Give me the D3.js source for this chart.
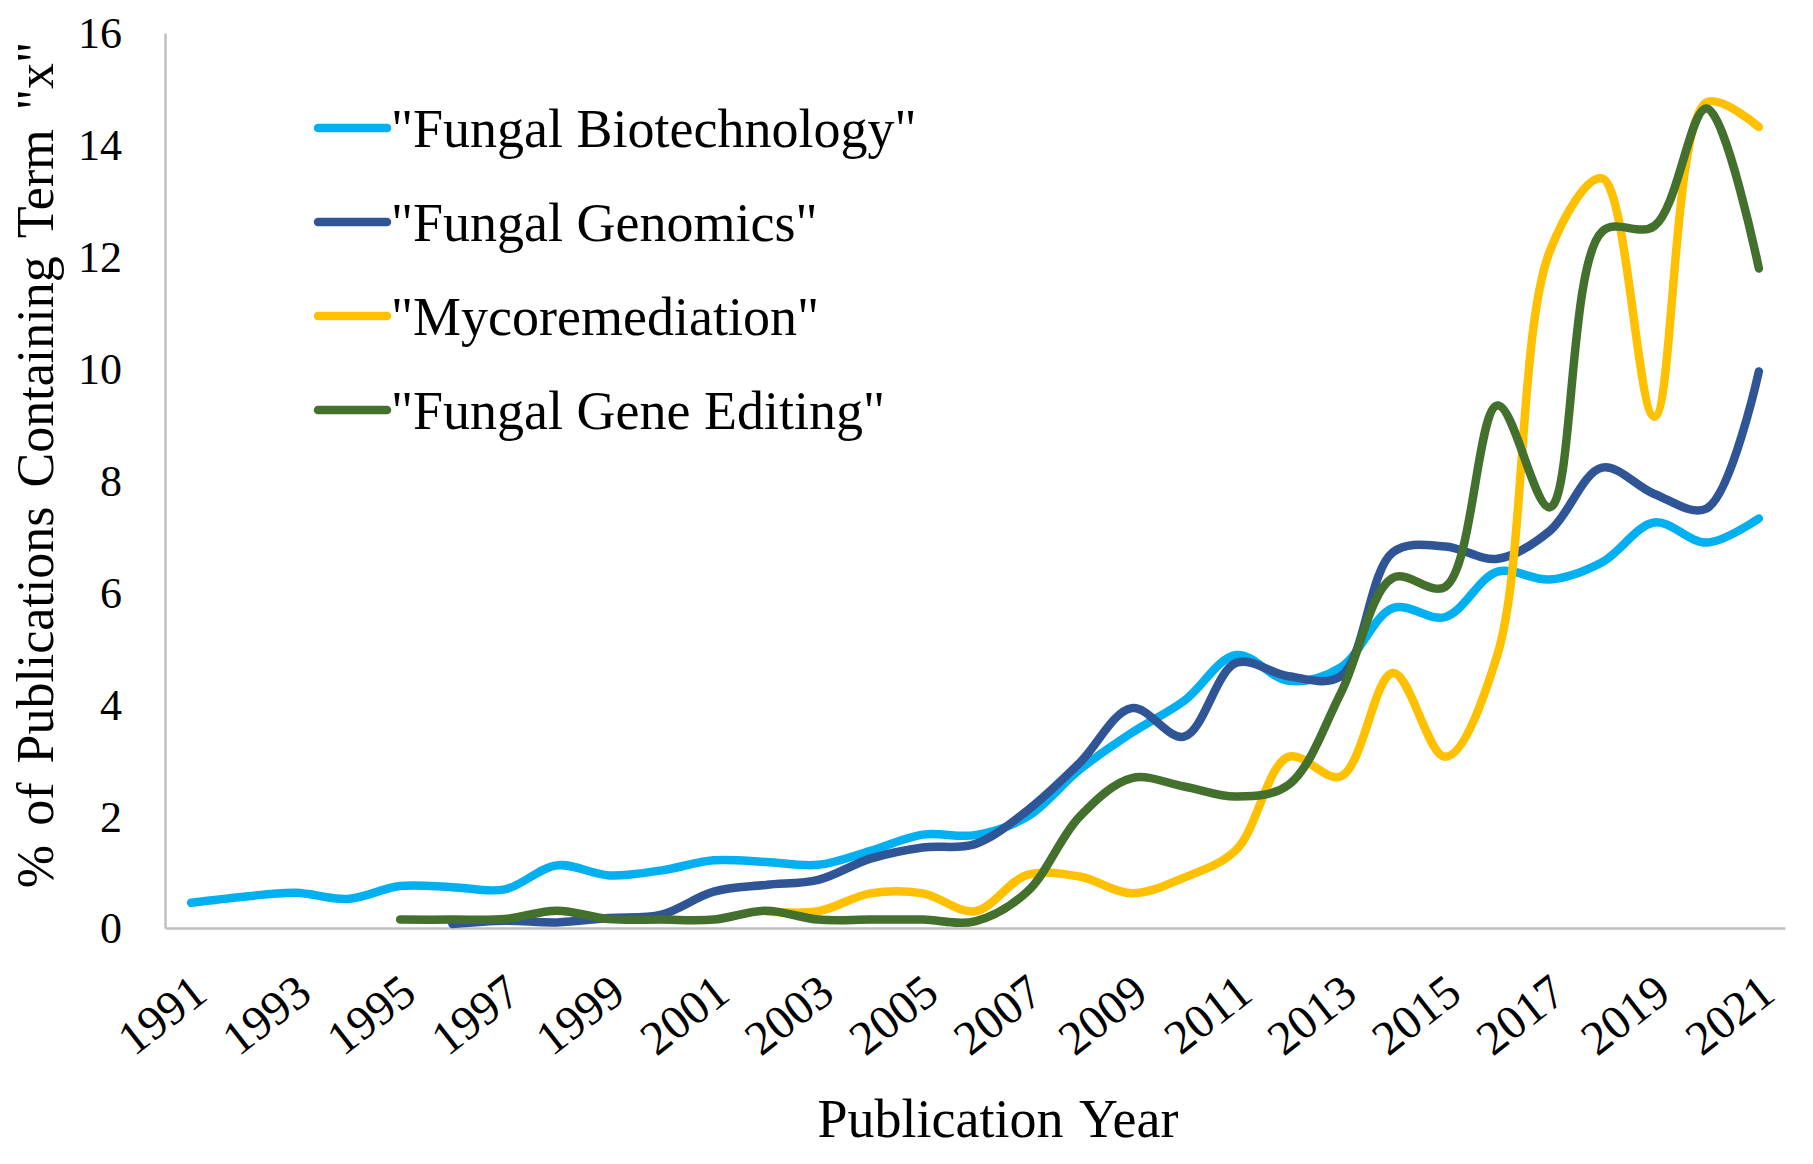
<!DOCTYPE HTML>
<html>
	<head>
		<meta charset="UTF-8">
		<title>Publications containing term</title>
		<script src="https://d3js.org/d3.v7.min.js"></script>
		<style>
			body { margin: 0; background: white; }
			text { font-family: "Liberation Serif", "Times New Roman", serif; fill: black; }
		</style>
	</head>
	<body>
		<svg id="svg" width="1813" height="1164"></svg>
	</body>
</html>
<script type="text/javascript">

var years = d3.range(1991, 2022)
var tickYears = [1991, 1993, 1995, 1997, 1999, 2001, 2003, 2005, 2007, 2009, 2011, 2013, 2015, 2017, 2019, 2021]
var yTicks = [0, 2, 4, 6, 8, 10, 12, 14, 16]

var names = ['"Fungal Biotechnology"', '"Fungal Genomics"', '"Mycoremediation"', '"Fungal Gene Editing"']
var colors = ["#00b0f0", "#2f5597", "#ffc000", "#43702c"]

// 1991 .. 2021, null = no data that year
var biotech = [0.45, 0.56, 0.63, 0.52, 0.75, 0.73, 0.69, 1.12, 0.94, 1.03, 1.21, 1.18, 1.13, 1.38, 1.67, 1.66,
	1.99, 2.83, 3.49, 4.06, 4.88, 4.42, 4.66, 5.72, 5.56, 6.37, 6.23, 6.54, 7.25, 6.89, 7.32]
var genomics = [null, null, null, null, null, 0.07, 0.13, 0.1, 0.18, 0.24, 0.65, 0.77, 0.86, 1.24, 1.44, 1.5,
	2.1, 2.95, 3.93, 3.42, 4.74, 4.5, 4.5, 6.72, 6.82, 6.6, 7.1, 8.23, 7.76, 7.5, 9.95]
var myco = [null, null, null, null, null, null, null, null, null, null, null, 0.3, 0.3, 0.62, 0.62, 0.3,
	0.95, 0.92, 0.62, 0.9, 1.4, 3.06, 2.71, 4.56, 3.06, 4.9, 12.1, 13.4, 9.14, 14.76, 14.32]
var editing = [null, null, null, null, 0.15, 0.15, 0.16, 0.31, 0.16, 0.15, 0.15, 0.31, 0.15, 0.15, 0.15, 0.12,
	0.65, 1.99, 2.68, 2.53, 2.35, 2.56, 4.2, 6.26, 6.1, 9.34, 7.52, 12.45, 12.55, 14.65, 11.79]

var series = [biotech, genomics, myco, editing]

var svg = d3.select("svg")

svg.append("rect")
	.attr("width", 1813)
	.attr("height", 1164)
	.style("fill", "white")

var x = d3.scalePoint()
	.domain(years)
	.range([165, 1785])
	.padding(0.5)

var y = d3.scaleLinear()
	.domain([0, 16])
	.range([928, 33])

var yAxis = d3.axisLeft(y)
	.tickValues(yTicks)
	.tickSize(0)
	.tickSizeOuter(0)
	.tickPadding(43)

var xAxis = d3.axisBottom(x)
	.tickValues(tickYears)
	.tickSize(0)
	.tickSizeOuter(0)

var gy = svg.append("g")
	.attr("transform", "translate(165,0)")
	.call(yAxis)
gy.select(".domain").style("stroke", "#bfbfbf").style("stroke-width", 2.5)
gy.selectAll("text")
	.style("font-family", '"Liberation Serif", "Times New Roman", serif')
	.style("font-size", "44px")
	.attr("dy", "0.34em")

var gx = svg.append("g")
	.attr("transform", "translate(0,928)")
	.call(xAxis)
gx.select(".domain").style("stroke", "#bfbfbf").style("stroke-width", 2.5)
gx.selectAll("text")
	.style("font-family", '"Liberation Serif", "Times New Roman", serif')
	.style("font-size", "48px")
	.attr("text-anchor", "end")
	.attr("y", 0)
	.attr("dy", 0)
	.attr("transform", "translate(18,70) rotate(-38)")

var line = d3.line()
	.defined(function (d) { return d != null; })
	.x(function (d, i) { return x(years[i]); })
	.y(function (d) { return y(d); })
	.curve(d3.curveCatmullRom.alpha(0.5))

svg.selectAll("path.series")
	.data(series)
	.enter().append("path")
	.attr("class", "series")
	.attr("d", line)
	.style("fill", "none")
	.style("stroke", function (d, i) { return colors[i]; })
	.style("stroke-width", 8.5)
	.style("stroke-linecap", "round")
	.style("stroke-linejoin", "round")

for (var i = 0; i < names.length; i++) {
	svg.append("line")
		.attr("x1", 318)
		.attr("x2", 387)
		.attr("y1", 128 + i * 94)
		.attr("y2", 128 + i * 94)
		.style("stroke", colors[i])
		.style("stroke-width", 8.5)
		.style("stroke-linecap", "round")

	svg.append("text")
		.attr("x", 391)
		.attr("y", 128 + i * 94)
		.attr("dy", "0.35em")
		.style("font-size", "54px")
		.text(names[i])
}

svg.append("text")
	.attr("x", 998)
	.attr("y", 1137)
	.attr("text-anchor", "middle")
	.style("font-size", "54px")
	.style("word-spacing", "4px")
	.text("Publication Year")

svg.append("text")
	.attr("transform", "translate(53,465) rotate(-90)")
	.attr("text-anchor", "middle")
	.style("font-size", "52px")
	.style("word-spacing", "6px")
	.text('% of Publications Containing Term "x"')

</script>
